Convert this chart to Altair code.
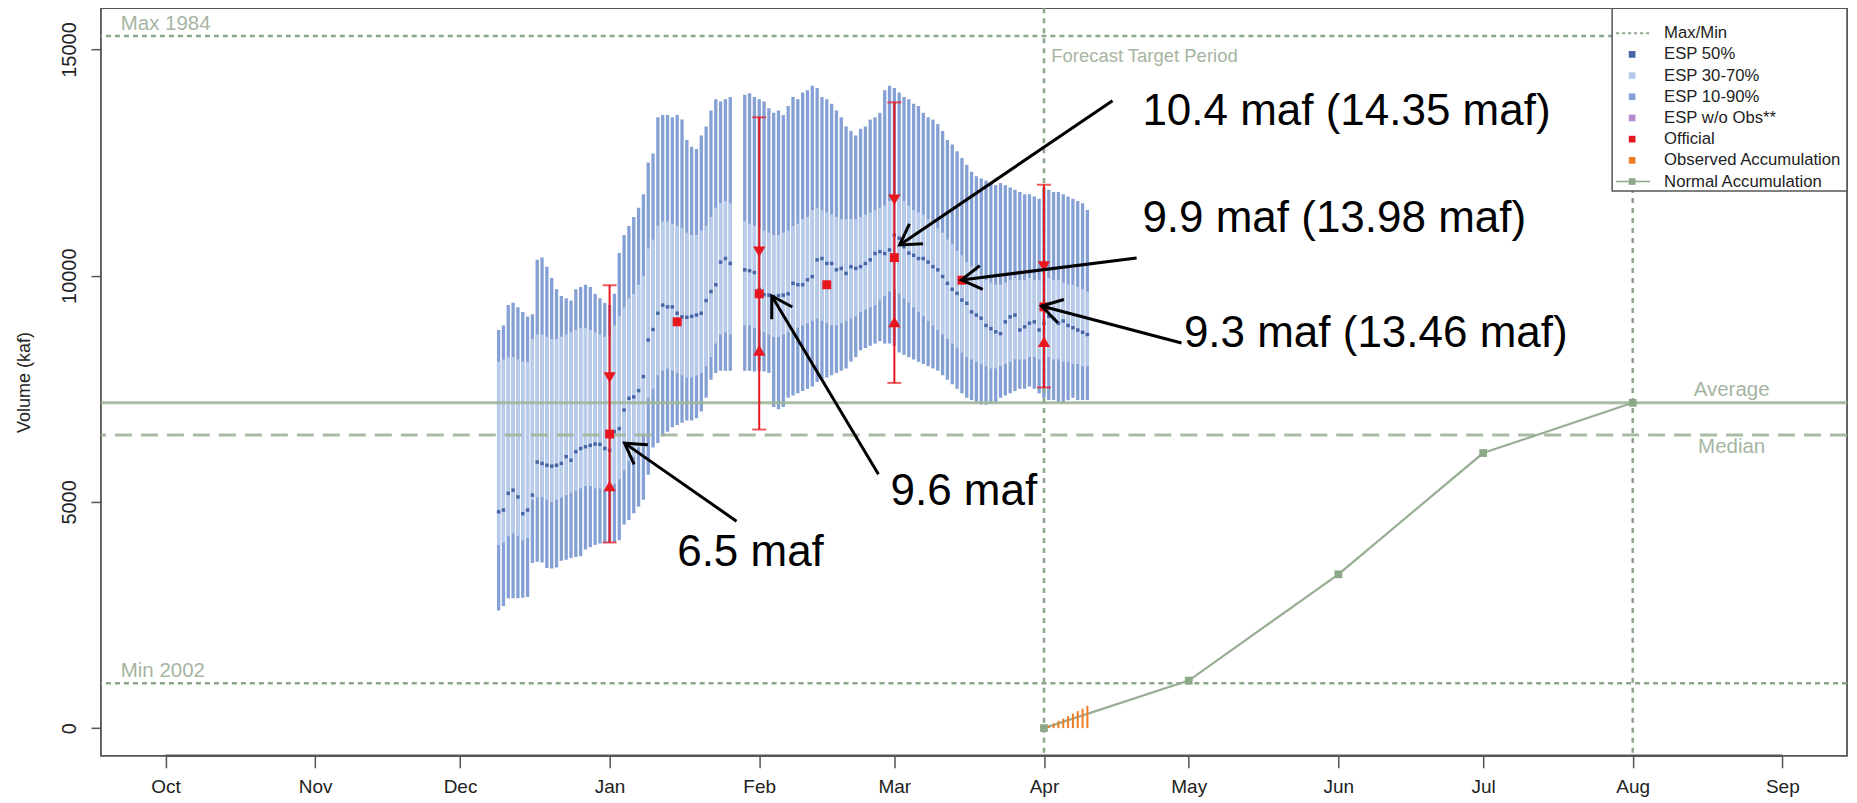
import math
import altair as alt
import pandas as pd

# ---------------- layout ----------------
W, H = 1747, 748
X_DOMAIN = [-13.4, 348.4]      # day of water year (Oct 1 = 0)
Y_DOMAIN = [-612.0, 15912.0]   # kaf

FONT = "Liberation Sans, Arial, sans-serif"

# ---------------- data ----------------
month_days = [0, 31, 61, 92, 123, 151, 182, 212, 243, 273, 304, 335]
month_labels = ["Oct", "Nov", "Dec", "Jan", "Feb", "Mar", "Apr", "May", "Jun", "Jul", "Aug", "Sep"]
y_ticks = [0, 5000, 10000, 15000]

max_value = 15300
min_value = 990
average_value = 7190
median_value = 6480
target_days = [182, 304]

esp_day = list(range(69, 118)) + list(range(120, 192))

esp_p90 = [8800, 8900, 9350, 9400, 9300, 9200, 9100, 9150, 10350, 10400,
           10200, 9950, 9700, 9550, 9500, 9450, 9700, 9750, 9800, 9750,
           9600, 9500, 9400, 9350, 9600, 10500, 10900, 11100, 11300, 11500,
           11800, 12500, 12700, 13500, 13550, 13550, 13500, 13550, 13450, 13000,
           12850, 12800, 13100, 13300, 13650, 13900, 13850, 13900, 13950,
           14000, 14030, 13950, 13900, 13850, 13700, 13600, 13650, 13550, 13750,
           13950, 13900, 14050, 14100, 14200, 14150, 13950, 13900, 13800, 13650,
           13500, 13300, 13200, 13100, 13250, 13300, 13450, 13500, 13600, 14100,
           14200, 14150, 14050, 13950, 13900, 13800, 13750, 13600, 13500, 13450,
           13350, 13200, 13000, 12900, 12750, 12600, 12450, 12300, 12200, 12150,
           12100, 12050, 12000, 12050, 12000, 11950, 11900, 11850, 11800, 11800,
           11750, 11700, 11950, 11900, 11850, 11850, 11800, 11750, 11700, 11650,
           11600, 11450]

esp_p70 = [8100, 8150, 8200, 8200, 8150, 8100, 8100, 8600, 8700, 8700,
           8650, 8600, 8600, 8650, 8700, 8750, 8800, 8850, 8850, 8800,
           8750, 8700, 8650, 8650, 8900, 9100, 9300, 9500, 9600, 9800,
           10000, 10600, 10800, 11100, 11200, 11200, 11150, 11100, 11050, 10950,
           10900, 10900, 11000, 11100, 11300, 11500, 11600, 11650, 11600,
           11200, 11150, 11100, 11050, 11000, 10950, 10900, 10900, 10950, 11000,
           11100, 11150, 11250, 11300, 11450, 11500, 11450, 11400, 11350, 11300,
           11250, 11250, 11250, 11250, 11300, 11350, 11400, 11450, 11500, 11550,
           11650, 11800, 11750, 11650, 11550, 11450, 11400, 11350, 11250, 11150,
           11050, 10950, 10800, 10700, 10550, 10450, 10300, 10200, 10100, 10000,
           9900, 9850, 9800, 9800, 9850, 9900, 9950, 9900, 9900, 9950,
           9900, 9900, 10000, 9950, 9900, 9900, 9850, 9800, 9800, 9750,
           9700, 9650]

esp_p50 = [4780, 4820, 5190, 5260, 5110, 4740, 4820, 5150, 5880, 5850,
           5810, 5790, 5810, 5850, 6000, 5920, 6110, 6180, 6220, 6250,
           6280, 6270, 6180, 6140, 6550, 6620, 7030, 7290, 7320, 7460,
           7770, 8580, 8810, 9170, 9350, 9310, 9310, 9170, 9090, 9080,
           9100, 9130, 9170, 9450, 9650, 9800, 10300, 10380, 10270,
           10130, 10110, 10070, 9700, 9580, 9570, 9540, 9560, 9570, 9600,
           9830, 9800, 9800, 9910, 9980, 10350, 10380, 10270, 10270, 10130,
           10160, 10050, 10200, 10160, 10200, 10270, 10350, 10490, 10530, 10490,
           10570, 10900, 10830, 10640, 10500, 10450, 10380, 10380, 10300, 10200,
           10130, 9980, 9830, 9700, 9610, 9460, 9390, 9200, 9130, 9060,
           8900, 8830, 8760, 8720, 8980, 9090, 9130, 8800, 8870, 8950,
           8980, 8800, 8950, 9100, 9050, 8950, 9000, 8900, 8850, 8800,
           8750, 8700]

esp_p30 = [4050, 4100, 4250, 4300, 4250, 4150, 4200, 5050, 5100, 5100,
           5050, 5000, 5050, 5100, 5150, 5200, 5250, 5300, 5350, 5350,
           5300, 5300, 5250, 5250, 5400, 5500, 5700, 5900, 6000, 6200,
           6500, 7300, 7500, 7800, 7900, 7950, 7900, 7850, 7800, 7750,
           7750, 7800, 7850, 8000, 8200, 8500, 8700, 8750, 8700,
           8900, 8900, 8850, 8800, 8750, 8700, 8650, 8650, 8700, 8750,
           8800, 8850, 8900, 8950, 9000, 9050, 9000, 8950, 8900, 8900,
           8950, 9000, 9050, 9100, 9200, 9250, 9300, 9350, 9450, 9550,
           9650, 9700, 9600, 9500, 9400, 9300, 9200, 9100, 9000, 8900,
           8800, 8700, 8600, 8500, 8400, 8300, 8200, 8150, 8100, 8050,
           8000, 7950, 7950, 8000, 8050, 8100, 8150, 8150, 8150, 8200,
           8200, 8150, 8250, 8200, 8150, 8150, 8100, 8100, 8050, 8050,
           8000, 8000]

esp_p10 = [2600, 2700, 2870, 2870, 2870, 2880, 2900, 3650, 3680, 3660,
           3540, 3530, 3550, 3700, 3720, 3760, 3780, 3800, 3950, 4000,
           4050, 4080, 4090, 4100, 4100, 4150, 4500, 4600, 4750, 4900,
           5050, 5600, 6200, 6300, 6450, 6550, 6650, 6700, 6750, 6800,
           6800, 6850, 7000, 7300, 7700, 7850, 7900, 7900, 7900,
           7900, 7900, 7880, 7900, 7880, 7850, 7100, 7050, 7100, 7300,
           7350, 7400, 7450, 7500, 7550, 7650, 7700, 7750, 7800, 7850,
           7900, 7950, 8100, 8200, 8350, 8400, 8450, 8500, 8550, 8500,
           8500, 8450, 8300, 8250, 8200, 8150, 8100, 8050, 8000, 7950,
           7900, 7800, 7700, 7600, 7500, 7400, 7300, 7250, 7200, 7150,
           7150, 7170, 7200, 7300, 7350, 7400, 7450, 7500, 7500, 7550,
           7500, 7400, 7300, 7250, 7250, 7200, 7200, 7250, 7300, 7250,
           7250, 7250]

official_day = [92, 123, 151, 182]
official_p10 = [4100, 6600, 7630, 7530]
official_p30 = [5350, 8350, 8980, 8540]
official_p50 = [6500, 9600, 10400, 9310]
official_p70 = [7750, 10530, 11680, 10200]
official_p90 = [9790, 13500, 13830, 12010]
midmonth_day = [106, 137, 165]
midmonth_value = [8980, 9800, 9900]

normal_day = [182, 212, 243, 273, 304]
normal_value = [0, 1050, 3400, 6080, 7190]

observed_day = [183, 184, 185, 186, 187, 188, 189, 190, 191]
observed_value = [55, 105, 160, 210, 265, 320, 375, 430, 490]

legend_labels = ["Max/Min", "ESP 50%", "ESP 30-70%", "ESP 10-90%", "ESP w/o Obs**",
                 "Official", "Observed Accumulation", "Normal Accumulation"]
legend_colors = ["#8da58a", "#4766a9", "#b7c9ea", "#86a2d6", "#b48ccc",
                 "#e8161e", "#f07c24", "#8da889"]

annot_labels = ["10.4 maf (14.35 maf)", "9.9 maf (13.98 maf)", "9.3 maf (13.46 maf)",
                "9.6 maf", "6.5 maf"]
annot_day = [202.4, 202.4, 211.0, 150.2, 106.0]
annot_value = [13620, 11250, 8710, 5226, 3865]

arrow_from_day = [196.2, 201.2, 210.5, 147.7, 118.3]
arrow_from_value = [13865, 10392, 8511, 5613, 4573]
arrow_to_day = [152.1, 164.9, 181.5, 125.6, 95.1]
arrow_to_value = [10679, 9905, 9330, 9551, 6299]

# ---------------- helpers ----------------
xs = alt.Scale(domain=X_DOMAIN, nice=False, zero=False)
ys = alt.Scale(domain=Y_DOMAIN, nice=False, zero=False)

label_expr = ("[" + ",".join("'%s'" % m for m in month_labels) + "][indexof(["
              + ",".join(str(d) for d in month_days) + "], datum.value)]")

x_axis = alt.Axis(values=month_days, labelExpr=label_expr, title=None, domain=False,
                  grid=False, ticks=True, tickSize=12, tickColor="#555", tickWidth=1.5,
                  labelFont=FONT, labelFontSize=19, labelColor="#222", labelPadding=10)
y_axis = alt.Axis(values=y_ticks, format="d", title="Volume (kaf)", domain=False, grid=False,
                  ticks=True, tickSize=10, tickColor="#555", tickWidth=1.5,
                  labelAngle=270, labelAlign="center", labelBaseline="bottom",
                  labelFont=FONT, labelFontSize=20, labelColor="#222", labelPadding=11,
                  titleFont=FONT, titleFontSize=18, titleFontWeight="normal", titleColor="#222",
                  titleX=-76, titleY=H / 2, titleAngle=270, titleAlign="center",
                  titleBaseline="middle")


def X(field):
    return alt.X(field, type="quantitative", scale=xs, axis=x_axis)


def Y(field):
    return alt.Y(field, type="quantitative", scale=ys, axis=y_axis)


esp = pd.DataFrame({"day": esp_day, "p10": esp_p10, "p30": esp_p30, "p50": esp_p50,
                    "p70": esp_p70, "p90": esp_p90})
off = pd.DataFrame({"day": official_day, "p10": official_p10, "p30": official_p30,
                    "p50": official_p50, "p70": official_p70, "p90": official_p90})
mid = pd.DataFrame({"day": midmonth_day, "value": midmonth_value})
normal = pd.DataFrame({"day": normal_day, "value": normal_value})
observed = pd.DataFrame({"day": observed_day, "value": observed_value,
                         "zero": [0] * len(observed_day)})
one = pd.DataFrame({"a": [0]})

layers = []

# ESP bars
layers.append(alt.Chart(esp).mark_rule(strokeWidth=3.3, color="#84a0d5").encode(
    x=X("day"), y=Y("p10"), y2="p90"))
layers.append(alt.Chart(esp).mark_rule(strokeWidth=3.3, color="#b9cbeb").encode(
    x=X("day"), y=Y("p30"), y2="p70"))
layers.append(alt.Chart(esp).mark_square(size=12, color="#4766a9", opacity=1).encode(
    x=X("day"), y=Y("p50")))

# reference lines
hl = pd.DataFrame({"v": [max_value, min_value]})
layers.append(alt.Chart(hl).mark_rule(color="#8da58a", strokeWidth=2.5, strokeDash=[5, 4]).encode(
    y=Y("v")))
layers.append(alt.Chart(pd.DataFrame({"v": [average_value]})).mark_rule(
    color="#9fb59a", strokeWidth=3, opacity=0.9).encode(y=Y("v")))
layers.append(alt.Chart(pd.DataFrame({"v": [median_value]})).mark_rule(
    color="#9fb59a", strokeWidth=3, strokeDash=[17, 9], opacity=0.9).encode(y=Y("v")))
layers.append(alt.Chart(pd.DataFrame({"d": target_days})).mark_rule(
    color="#8da58a", strokeWidth=2.5, strokeDash=[5, 5]).encode(x=X("d")))

# x axis line from first to last tick
layers.append(alt.Chart(pd.DataFrame({"a": [month_days[0]], "b": [month_days[-1]]})).mark_rule(
    color="#555", strokeWidth=2.5).encode(x=X("a"), x2="b", y=alt.value(H)))

# normal accumulation
layers.append(alt.Chart(normal).mark_line(color="#98ae93", strokeWidth=2.2).encode(
    x=X("day"), y=Y("value")))
layers.append(alt.Chart(normal).mark_square(size=60, color="#8da889", opacity=1).encode(
    x=X("day"), y=Y("value")))

# observed accumulation
layers.append(alt.Chart(observed).mark_rule(color="#f07c24", strokeWidth=2).encode(
    x=X("day"), y=Y("zero"), y2="value"))

# official forecasts
red = "#e8161e"
layers.append(alt.Chart(off).mark_rule(color=red, strokeWidth=2).encode(
    x=X("day"), y=Y("p10"), y2="p90"))
layers.append(alt.Chart(off).mark_tick(color=red, orient="horizontal", size=14, thickness=2).encode(
    x=X("day"), y=Y("p10")))
layers.append(alt.Chart(off).mark_tick(color=red, orient="horizontal", size=14, thickness=2).encode(
    x=X("day"), y=Y("p90")))
layers.append(alt.Chart(off).mark_point(shape="triangle-down", filled=True, size=150, color=red,
                                        opacity=1).encode(x=X("day"), y=Y("p70")))
layers.append(alt.Chart(off).mark_point(shape="triangle-up", filled=True, size=150, color=red,
                                        opacity=1).encode(x=X("day"), y=Y("p30")))
layers.append(alt.Chart(off).mark_square(size=80, color=red, opacity=1).encode(
    x=X("day"), y=Y("p50")))
layers.append(alt.Chart(mid).mark_square(size=80, color=red, opacity=1).encode(
    x=X("day"), y=Y("value")))

# in-plot labels
lab_color = "#a6b5a2"
plot_labels = pd.DataFrame({
    "t": ["Max 1984", "Min 2002"], "d": [-9.3, -9.3],
    "v": [max_value, min_value]})
layers.append(alt.Chart(plot_labels).mark_text(align="left", baseline="bottom", dy=-2,
                                               font=FONT, fontSize=20.5, color=lab_color).encode(
    x=X("d"), y=Y("v"), text="t:N"))
layers.append(alt.Chart(pd.DataFrame({"t": ["Average"], "d": [324.5], "v": [average_value]})).mark_text(
    align="center", baseline="bottom", dy=-3, font=FONT, fontSize=20.5, color=lab_color).encode(
    x=X("d"), y=Y("v"), text="t:N"))
layers.append(alt.Chart(pd.DataFrame({"t": ["Median"], "d": [324.5], "v": [median_value]})).mark_text(
    align="center", baseline="top", dy=2, font=FONT, fontSize=20.5, color=lab_color).encode(
    x=X("d"), y=Y("v"), text="t:N"))
layers.append(alt.Chart(pd.DataFrame({"t": ["Forecast Target Period"], "d": [183.5],
                                      "v": [14860]})).mark_text(
    align="left", baseline="middle", font=FONT, fontSize=18.5, color=lab_color).encode(
    x=X("d"), y=Y("v"), text="t:N"))

# legend (drawn inside the plot, top right)
LX0, LY0, LSTEP = 1512, 25, 21.2
layers.append(alt.Chart(one).mark_rect(fill="white", stroke="#555", strokeWidth=1.5).encode(
    x=alt.value(LX0), x2=alt.value(W), y=alt.value(0), y2=alt.value(183)))
leg = pd.DataFrame({"label": legend_labels, "row": list(range(len(legend_labels))),
                    "color": legend_colors})
leg_base = alt.Chart(leg).transform_calculate(ly=f"{LY0} + datum.row * {LSTEP}")
layers.append(leg_base.mark_text(align="left", baseline="middle", font=FONT, fontSize=16.7,
                                 color="#222").encode(
    x=alt.value(LX0 + 52), y=alt.Y("ly:Q", scale=None, axis=None), text="label:N"))
layers.append(leg_base.transform_filter("datum.row >= 1 && datum.row <= 6").mark_square(
    size=45, opacity=1).encode(x=alt.value(LX0 + 20), y=alt.Y("ly:Q", scale=None, axis=None),
                               color=alt.Color("color:N", scale=None)))
layers.append(leg_base.transform_filter("datum.row == 0").mark_rule(
    strokeWidth=2, strokeDash=[3, 3]).encode(
    x=alt.value(LX0 + 4), x2=alt.value(LX0 + 38), y=alt.Y("ly:Q", scale=None, axis=None),
    color=alt.Color("color:N", scale=None)))
layers.append(leg_base.transform_filter("datum.row == 7").mark_rule(strokeWidth=1.5).encode(
    x=alt.value(LX0 + 4), x2=alt.value(LX0 + 38), y=alt.Y("ly:Q", scale=None, axis=None),
    color=alt.Color("color:N", scale=None)))
layers.append(leg_base.transform_filter("datum.row == 7").mark_square(size=45, opacity=1).encode(
    x=alt.value(LX0 + 20), y=alt.Y("ly:Q", scale=None, axis=None),
    color=alt.Color("color:N", scale=None)))

# annotations: arrows and large labels
px_day = W / (X_DOMAIN[1] - X_DOMAIN[0])
px_val = H / (Y_DOMAIN[1] - Y_DOMAIN[0])
angles = []
for d0, v0, d1, v1 in zip(arrow_from_day, arrow_from_value, arrow_to_day, arrow_to_value):
    dx = (d1 - d0) * px_day
    dy = -(v1 - v0) * px_val
    angles.append(math.degrees(math.atan2(dx, -dy)) % 360)
arrows = pd.DataFrame({"d0": arrow_from_day, "v0": arrow_from_value,
                       "d1": arrow_to_day, "v1": arrow_to_value, "ang": angles})
layers.append(alt.Chart(arrows).mark_rule(color="black", strokeWidth=3).encode(
    x=X("d0"), y=Y("v0"), x2="d1", y2="v1"))
layers.append(alt.Chart(arrows).mark_point(shape="M-0.6,1L0,0L0.6,1", size=1600, filled=False,
                                           color="black", strokeWidth=3, opacity=1).encode(
    x=X("d1"), y=Y("v1"), angle=alt.Angle("ang:Q", scale=None)))
annots = pd.DataFrame({"t": annot_labels, "d": annot_day, "v": annot_value})
layers.append(alt.Chart(annots).mark_text(align="left", baseline="middle", font=FONT,
                                          fontSize=44, color="black").encode(
    x=X("d"), y=Y("v"), text="t:N"))

chart = alt.layer(*layers).properties(
    width=W, height=H,
    autosize=alt.AutoSizeParams(type="none"),
    padding={"left": 93, "top": 0, "right": 2, "bottom": 44},
).configure_view(stroke="#555", strokeWidth=1.8)

chart.save("out.html", embed_options={"renderer": "svg", "actions": False})
